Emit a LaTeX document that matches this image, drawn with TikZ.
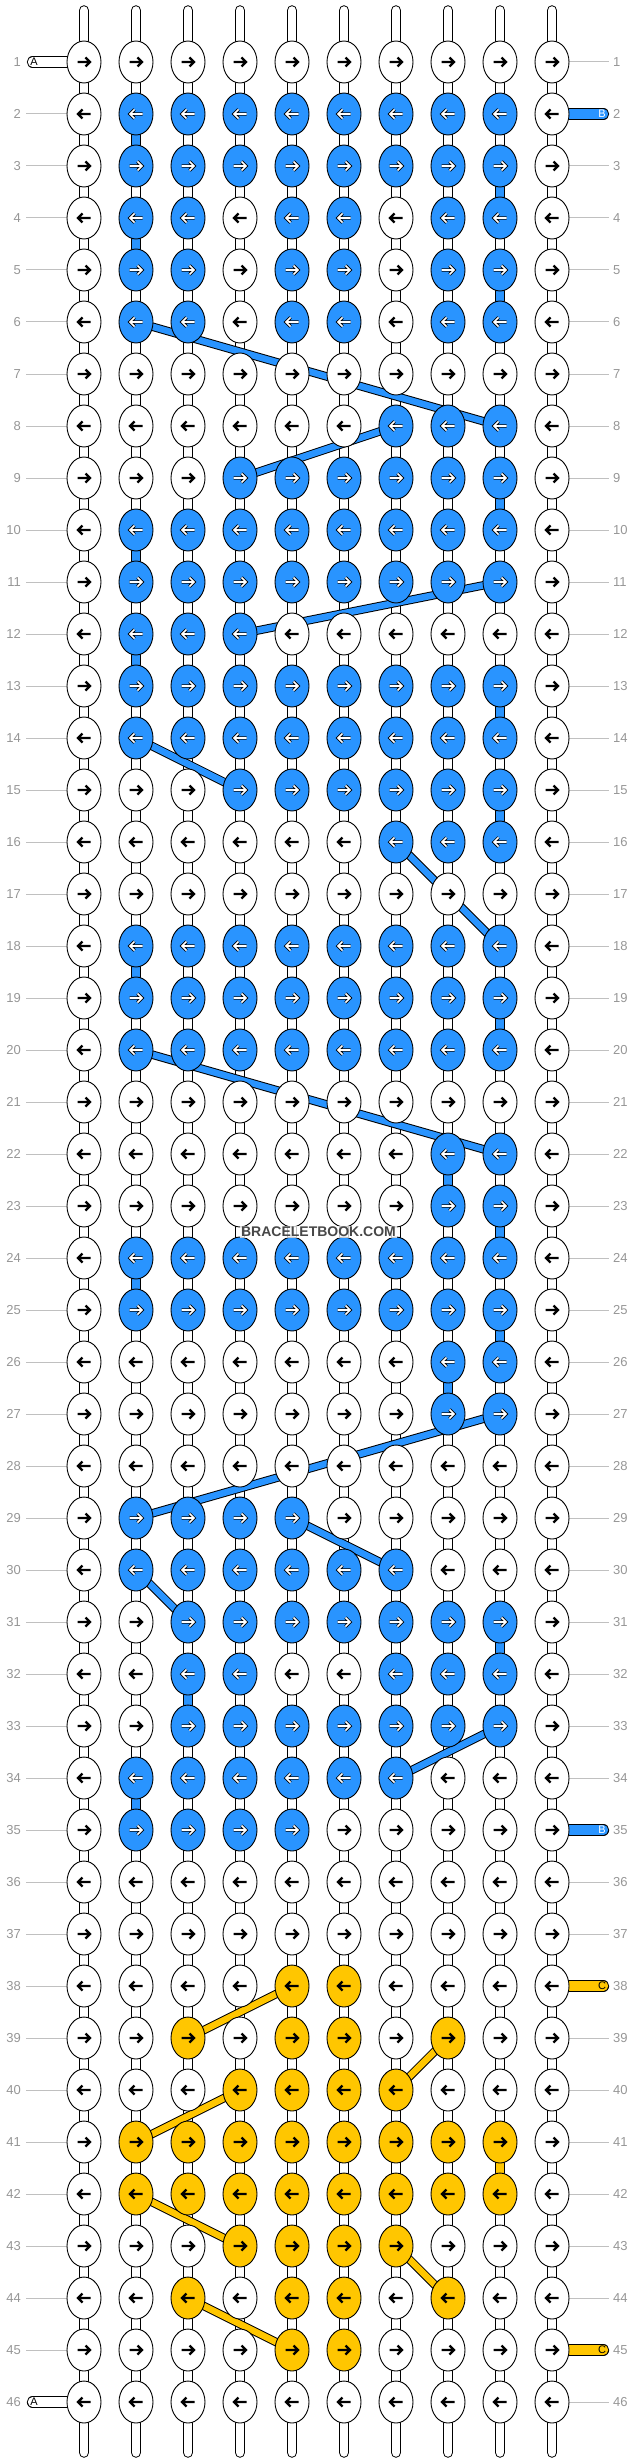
\documentclass[tikz,border=0pt]{standalone}
\usepackage{fontspec}
\setmainfont{Liberation Sans}
\usetikzlibrary{shapes.geometric,calc}
\definecolor{knotblue}{RGB}{41,148,255}
\definecolor{knotyellow}{RGB}{255,198,0}
\definecolor{numgray}{RGB}{150,150,150}
\definecolor{linegray}{RGB}{192,192,192}
\definecolor{strandgray}{RGB}{185,185,185}
\pgfdeclarelayer{strings}
\pgfdeclarelayer{bands}
\pgfsetlayers{strings,bands,main}
\tikzset{
  knot/.style={ellipse,draw,line width=0.9pt,fill=white,inner sep=0pt,minimum width=34pt,minimum height=42pt},
  knot-w/.style={knot},
  knot-b/.style={knot,fill=knotblue},
  knot-y/.style={knot,fill=knotyellow},
  arrow-w/.style={line width=2.3pt,draw=black},
  arrow-y/.style={arrow-w},
  arrow-b/.style={line width=0.8pt,draw=black,double=white,double distance=1.6pt},
  pics/knotarrow/.style={code={\draw[line join=miter,#1] (-6.5,0) -- (6,0) (1.5,-4.5) -- (6,0) -- (1.5,4.5);}},
  tube/.style={line width=1pt,draw=black,double=white,double distance=9.3pt},
  tube-b/.style={tube,double=knotblue},
  tube-y/.style={tube,double=knotyellow},
  warp/.style={line width=1pt,draw=black,double=white,double distance=8.5pt},
  warp-b/.style={warp,double=knotblue},
  warp-y/.style={warp,double=knotyellow},
  strand/.style={line width=0.8pt,draw=strandgray,double=white,double distance=3.2pt},
  band-b/.style={line width=1pt,draw=black,double=knotblue,double distance=6.5pt},
  band-y/.style={band-b,double=knotyellow},
  rownum/.style={inner sep=0pt,text=numgray,font=\fontsize{13}{13}\selectfont},
  rowline/.style={draw=linegray,line width=1pt},
  endlabel/.style={inner sep=0pt,font=\fontsize{11}{11}\selectfont},
  watermark/.style={fill=white,fill opacity=0.75,text opacity=1,text=black!72,inner sep=1.5pt,font=\bfseries\fontsize{14}{14}\selectfont}
}
\begin{document}
\begin{tikzpicture}[x=1pt,y=-1pt]
\useasboundingbox (0,0) rectangle (636,2464);
% knots, one row per line
\foreach \r/\cols [evaluate=\r as \dir using {1-2*mod(\r+1,2)}] in {
  1/{w,w,w,w,w,w,w,w,w,w},
  2/{w,b,b,b,b,b,b,b,b,w},
  3/{w,b,b,b,b,b,b,b,b,w},
  4/{w,b,b,w,b,b,w,b,b,w},
  5/{w,b,b,w,b,b,w,b,b,w},
  6/{w,b,b,w,b,b,w,b,b,w},
  7/{w,w,w,w,w,w,w,w,w,w},
  8/{w,w,w,w,w,w,b,b,b,w},
  9/{w,w,w,b,b,b,b,b,b,w},
  10/{w,b,b,b,b,b,b,b,b,w},
  11/{w,b,b,b,b,b,b,b,b,w},
  12/{w,b,b,b,w,w,w,w,w,w},
  13/{w,b,b,b,b,b,b,b,b,w},
  14/{w,b,b,b,b,b,b,b,b,w},
  15/{w,w,w,b,b,b,b,b,b,w},
  16/{w,w,w,w,w,w,b,b,b,w},
  17/{w,w,w,w,w,w,w,w,w,w},
  18/{w,b,b,b,b,b,b,b,b,w},
  19/{w,b,b,b,b,b,b,b,b,w},
  20/{w,b,b,b,b,b,b,b,b,w},
  21/{w,w,w,w,w,w,w,w,w,w},
  22/{w,w,w,w,w,w,w,b,b,w},
  23/{w,w,w,w,w,w,w,b,b,w},
  24/{w,b,b,b,b,b,b,b,b,w},
  25/{w,b,b,b,b,b,b,b,b,w},
  26/{w,w,w,w,w,w,w,b,b,w},
  27/{w,w,w,w,w,w,w,b,b,w},
  28/{w,w,w,w,w,w,w,w,w,w},
  29/{w,b,b,b,b,w,w,w,w,w},
  30/{w,b,b,b,b,b,b,w,w,w},
  31/{w,w,b,b,b,b,b,b,b,w},
  32/{w,w,b,b,w,w,b,b,b,w},
  33/{w,w,b,b,b,b,b,b,b,w},
  34/{w,b,b,b,b,b,b,w,w,w},
  35/{w,b,b,b,b,w,w,w,w,w},
  36/{w,w,w,w,w,w,w,w,w,w},
  37/{w,w,w,w,w,w,w,w,w,w},
  38/{w,w,w,w,y,y,w,w,w,w},
  39/{w,w,y,w,y,y,w,y,w,w},
  40/{w,w,w,y,y,y,y,w,w,w},
  41/{w,y,y,y,y,y,y,y,y,w},
  42/{w,y,y,y,y,y,y,y,y,w},
  43/{w,w,w,y,y,y,y,w,w,w},
  44/{w,w,y,w,y,y,w,y,w,w},
  45/{w,w,w,w,y,y,w,w,w,w},
  46/{w,w,w,w,w,w,w,w,w,w}}{
  \foreach \k [count=\c] in \cols {
    \node[knot-\k] (k-\r-\c) at ({84+52*(\c-1)},{62+52*(\r-1)}) {};
    \path (k-\r-\c) pic[xscale=\dir] {knotarrow=arrow-\k};
  }
  \node[rownum,anchor=east] (num-l-\r) at (21,{62+52*(\r-1)}) {\r};
  \node[rownum,anchor=west] (num-r-\r) at (613,{62+52*(\r-1)}) {\r};
}
% free ends of the strings
\node[endlabel] (lab-a-1) at (34,62) {A};
\node[endlabel] (lab-a-46) at (34,2402) {A};
\node[endlabel,text=white] (lab-b-2) at (602,114) {B};
\node[endlabel,text=white] (lab-b-35) at (602,1830) {B};
\node[endlabel] (lab-c-38) at (602,1986) {C};
\node[endlabel] (lab-c-45) at (602,2350) {C};
\node[watermark] (brand) at (318.5,1232) {BRACELETBOOK.COM};
\begin{pgfonlayer}{strings}
  \foreach \c in {1,...,10} {
    \coordinate (top-\c) at ({84+52*(\c-1)},10.5);
    \coordinate (bot-\c) at ({84+52*(\c-1)},2452.5);
    \draw[warp,line cap=round] (top-\c) -- (k-1-\c.center);
    \draw[strand] (top-\c) -- (k-1-\c.center);
    \draw[warp,line cap=round] (k-46-\c.center) -- (bot-\c);
    \draw[strand] (k-46-\c.center) -- (bot-\c);
  }
  \foreach \r [evaluate=\r as \rn using int(\r+1)] in {1,...,45}
    \foreach \c in {1,...,10} {
      \draw[warp] (k-\r-\c.center) -- (k-\rn-\c.center);
      \draw[strand] (k-\r-\c.center) -- (k-\rn-\c.center);
    }
  \foreach \r in {1,...,46}
    \foreach \c [evaluate=\c as \cn using int(\c+1)] in {1,...,9}
      \draw[tube] (k-\r-\c.center) -- (k-\r-\cn.center);
  \foreach \r/\c [evaluate=\r as \rn using int(\r+1)] in {2/2,3/9,4/2,5/9,9/9,10/2,12/2,13/9,15/9,18/2,19/9,22/8,23/9,24/2,25/9,26/8,31/9,32/3,34/2}
    \draw[warp-b] (k-\r-\c.center) -- (k-\rn-\c.center);
  \draw[warp-y] (k-41-9.center) -- (k-42-9.center);
  \coordinate (end-a-1) at (32.5,62);
  \coordinate (end-a-46) at (32.5,2402);
  \coordinate (end-b-2) at (603.5,114);
  \coordinate (end-b-35) at (603.5,1830);
  \coordinate (end-c-38) at (603.5,1986);
  \coordinate (end-c-45) at (603.5,2350);
  \draw[tube,line cap=round] (k-1-1.center) -- (end-a-1);
  \draw[tube,line cap=round] (k-46-1.center) -- (end-a-46);
  \draw[tube-b,line cap=round] (k-2-10.center) -- (end-b-2);
  \draw[tube-b,line cap=round] (k-35-10.center) -- (end-b-35);
  \draw[tube-y,line cap=round] (k-38-10.center) -- (end-c-38);
  \draw[tube-y,line cap=round] (k-45-10.center) -- (end-c-45);
  \foreach \r in {2,...,45}
    \draw[rowline] ([xshift=5pt]num-l-\r.east) -- (k-\r-1.west);
  \foreach \r in {1,3,4,...,34,36,37,39,40,...,44,46}
    \draw[rowline] (k-\r-10.east) -- ([xshift=-4pt]num-r-\r.west);
\end{pgfonlayer}
\begin{pgfonlayer}{bands}
  \foreach \ra/\ca/\rb/\cb in {6/2/8/9,8/7/9/4,11/9/12/4,14/2/15/4,16/7/18/9,20/2/22/9,27/9/29/2,29/5/30/7,30/2/31/3,33/9/34/7}
    \draw[band-b] (k-\ra-\ca.center) -- (k-\rb-\cb.center);
  \foreach \ra/\ca/\rb/\cb in {38/5/39/3,39/8/40/7,40/4/41/2,42/2/43/4,43/7/44/8,44/3/45/5}
    \draw[band-y] (k-\ra-\ca.center) -- (k-\rb-\cb.center);
\end{pgfonlayer}
\end{tikzpicture}
\end{document}
